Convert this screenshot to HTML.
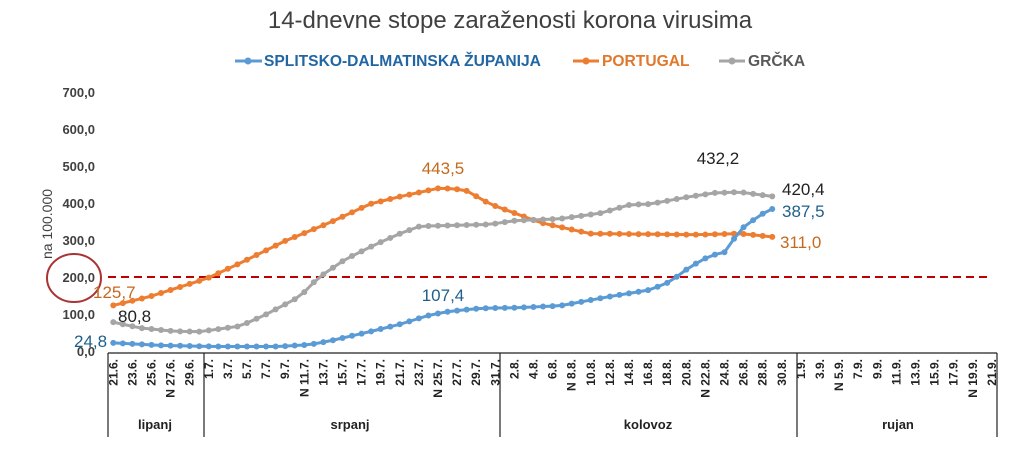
<!DOCTYPE html>
<html><head><meta charset="utf-8"><style>
body{margin:0;background:#fff;}
svg{display:block;font-family:"Liberation Sans",sans-serif;}
</style></head><body>
<svg id="s" width="1018" height="455" xmlns="http://www.w3.org/2000/svg">
<text x="510" y="28" text-anchor="middle" font-size="24" fill="#404040">14-dnevne stope zaraženosti korona virusima</text>
<line x1="235" y1="61" x2="262" y2="61" stroke="#5B9BD5" stroke-width="3"/><circle cx="248" cy="61" r="3.5" fill="#5B9BD5"/>
<text x="264" y="66" font-size="15.6" font-weight="bold" fill="#2166A3">SPLITSKO-DALMATINSKA ŽUPANIJA</text>
<line x1="573" y1="61" x2="599" y2="61" stroke="#ED7D31" stroke-width="3"/><circle cx="586" cy="61" r="3.5" fill="#ED7D31"/>
<text x="602" y="66" font-size="15.6" font-weight="bold" fill="#E0782C">PORTUGAL</text>
<line x1="719" y1="61" x2="745" y2="61" stroke="#A5A5A5" stroke-width="3"/><circle cx="732" cy="61" r="3.5" fill="#A5A5A5"/>
<text x="748" y="66" font-size="15.6" font-weight="bold" fill="#595959">GRČKA</text>
<text transform="translate(52,224) rotate(-90)" text-anchor="middle" font-size="14" fill="#404040">na 100.000</text>
<g id="yl" font-size="13" font-weight="bold" fill="#404040" text-anchor="end"></g>
<line x1="108" y1="277" x2="990" y2="277" stroke="#C00000" stroke-width="2" stroke-dasharray="8,5"/>
<ellipse cx="74" cy="278" rx="27" ry="24" fill="none" stroke="#A33" stroke-width="2"/>
<g id="ax" stroke="#222" stroke-width="1.2"></g>
<g id="tl" font-size="12" font-weight="bold" fill="#222"></g>
<g font-size="13" font-weight="bold" fill="#222" text-anchor="middle">
<text x="155" y="429">lipanj</text><text x="350" y="429">srpanj</text><text x="648" y="429">kolovoz</text><text x="898" y="429">rujan</text></g>
<g id="ser"></g>
<g font-size="17">
<text x="443" y="174" text-anchor="middle" fill="#C5691F">443,5</text>
<text x="718" y="164" text-anchor="middle" fill="#222">432,2</text>
<text x="782" y="195" fill="#222">420,4</text>
<text x="782" y="217" fill="#1F5F8B">387,5</text>
<text x="780" y="248" fill="#C5691F">311,0</text>
<text x="443" y="301" text-anchor="middle" fill="#1F5F8B">107,4</text>
<text x="93" y="298" fill="#C5691F">125,7</text>
<text x="118" y="322" fill="#222">80,8</text>
<text x="74" y="347" fill="#1F5F8B">24,8</text>
</g>
</svg>
<script>
const NS="http://www.w3.org/2000/svg";
function el(p,t,a,txt){const e=document.createElementNS(NS,t);for(const k in a)e.setAttribute(k,a[k]);if(txt)e.textContent=txt;document.getElementById(p).appendChild(e);return e;}
const Y=v=>352-0.37*v, X=i=>204+9.55*(i-9.5);
for(let v=0;v<=700;v+=100)el("yl","text",{x:95,y:Y(v)+4},(v+",0"));
el("ax","line",{x1:108,y1:353,x2:997,y2:353});
[108,204,500,797,997].forEach(x=>el("ax","line",{x1:x,y1:353,x2:x,y2:437}));
const d0=new Date(2020,5,21);
for(let i=0;i<=92;i+=2){const d=new Date(d0);d.setDate(d.getDate()+i);
 let s=d.getDate()+"."+(d.getMonth()+1)+".";if([6,20,34,48,62,76,90].includes(i))s="N "+s;
 const x=X(i)+4;el("tl","text",{transform:`translate(${x},359) rotate(-90)`,"text-anchor":"end"},s);}
function interp(k,x){for(let j=0;j<k.length-1;j++){if(x>=k[j][0]&&x<=k[j+1][0]){const t=(x-k[j][0])/(k[j+1][0]-k[j][0]);return k[j][1]+t*(k[j+1][1]-k[j][1]);}}return k[k.length-1][1];}
const S={
"#ED7D31":[[113,125.7],[150,150],[185,180],[208,200],[240,240],[285,300],[330,350],[370,400],[400,420],[440,443.5],[465,438],[490,400],[540,350],[590,320],[700,317],[740,320],[773,311]],
"#A5A5A5":[[113,80.8],[140,65],[175,56],[200,55],[240,70],[265,100],[300,150],[318,200],[345,250],[375,290],[400,320],[420,340],[490,345],[515,355],[560,360],[600,375],[630,398],[650,400],[690,420],[715,430],[740,432.2],[760,425],[773,420.4]],
"#5B9BD5":[[113,24.8],[160,18],[210,15],[280,15],[310,20],[330,30],[370,55],[400,75],[430,100],[450,110],[480,118],[520,120],[560,125],[580,135],[610,150],[650,168],[670,190],[690,230],[710,260],[725,270],[740,330],[760,370],[773,387.5]]};
for(const c in S){let pts=[];for(let i=0;i<=69;i++){const x=X(i);pts.push([x,Y(interp(S[c],x))]);}
 el("ser","polyline",{points:pts.map(p=>p.join(",")).join(" "),fill:"none",stroke:c,"stroke-width":3});
 pts.forEach(p=>el("ser","circle",{cx:p[0],cy:p[1],r:3,fill:c}));}
</script>
</body></html>
